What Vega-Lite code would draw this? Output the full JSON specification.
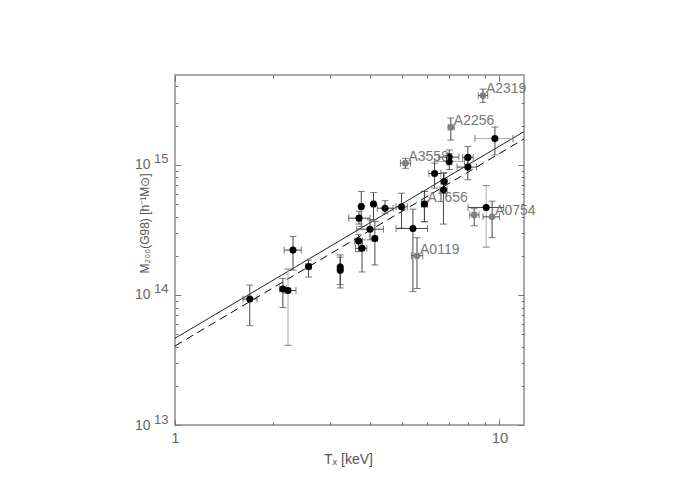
{
  "$schema": "https://vega.github.io/schema/vega-lite/v6.json",
  "autosize": "none",
  "width": 349,
  "height": 350,
  "padding": {"left": 175, "top": 75, "right": 176, "bottom": 75},
  "background": "white",
  "config": {
    "view": {"stroke": "#aaaaaa", "strokeWidth": 2},
    "axis": {
      "domain": false,
      "grid": false,
      "tickColor": "#777777",
      "tickWidth": 1,
      "labelColor": "#666666",
      "labelFont": "Liberation Sans",
      "labelFontSize": 14,
      "titleFont": "Liberation Sans",
      "titleFontSize": 14,
      "titleFontWeight": "normal",
      "titleColor": "#555555"
    }
  },
  "datasets": {
    "pts": [
      {"T": 1.70, "Tlo": 1.62, "Thi": 1.79, "M": 9.3e13, "Mlo": 5.8e13, "Mhi": 1.19e14, "kind": "black", "vbar": "dark", "hbar": "dark", "label": ""},
      {"T": 2.15, "Tlo": 2.10, "Thi": 2.20, "M": 1.11e14, "Mlo": 8.0e13, "Mhi": 1.34e14, "kind": "black", "vbar": "dark", "hbar": "dark", "label": ""},
      {"T": 2.23, "Tlo": 2.17, "Thi": 2.36, "M": 1.08e14, "Mlo": 4.1e13, "Mhi": 1.58e14, "kind": "black", "vbar": "light", "hbar": "dark", "label": ""},
      {"T": 2.31, "Tlo": 2.17, "Thi": 2.45, "M": 2.21e14, "Mlo": 1.55e14, "Mhi": 2.81e14, "kind": "black", "vbar": "dark", "hbar": "dark", "label": ""},
      {"T": 2.58, "Tlo": 2.53, "Thi": 2.63, "M": 1.65e14, "Mlo": 1.37e14, "Mhi": 1.85e14, "kind": "black", "vbar": "dark", "hbar": "dark", "label": ""},
      {"T": 3.23, "Tlo": 3.20, "Thi": 3.26, "M": 1.64e14, "Mlo": 1.13e14, "Mhi": 2.03e14, "kind": "black", "vbar": "dark", "hbar": "dark", "label": ""},
      {"T": 3.23, "Tlo": 3.20, "Thi": 3.26, "M": 1.55e14, "Mlo": 1.20e14, "Mhi": 1.95e14, "kind": "black", "vbar": "dark", "hbar": "dark", "label": ""},
      {"T": 3.68, "Tlo": 3.58, "Thi": 3.78, "M": 2.6e14, "Mlo": 2.15e14, "Mhi": 2.9e14, "kind": "black", "vbar": "dark", "hbar": "dark", "label": ""},
      {"T": 3.77, "Tlo": 3.60, "Thi": 3.90, "M": 2.28e14, "Mlo": 1.5e14, "Mhi": 2.65e14, "kind": "black", "vbar": "dark", "hbar": "dark", "label": ""},
      {"T": 3.69, "Tlo": 3.43, "Thi": 3.99, "M": 3.89e14, "Mlo": 3.5e14, "Mhi": 4.4e14, "kind": "black", "vbar": "dark", "hbar": "dark", "label": ""},
      {"T": 3.75, "Tlo": 3.70, "Thi": 3.80, "M": 4.78e14, "Mlo": 3.35e14, "Mhi": 6.24e14, "kind": "black", "vbar": "dark", "hbar": "dark", "label": ""},
      {"T": 3.99, "Tlo": 3.63, "Thi": 4.39, "M": 3.2e14, "Mlo": 2.65e14, "Mhi": 3.78e14, "kind": "black", "vbar": "dark", "hbar": "dark", "label": ""},
      {"T": 4.13, "Tlo": 4.05, "Thi": 4.20, "M": 2.71e14, "Mlo": 1.70e14, "Mhi": 3.66e14, "kind": "black", "vbar": "dark", "hbar": "dark", "label": ""},
      {"T": 4.09, "Tlo": 4.03, "Thi": 4.15, "M": 5.0e14, "Mlo": 3.78e14, "Mhi": 6.12e14, "kind": "black", "vbar": "dark", "hbar": "dark", "label": ""},
      {"T": 4.44, "Tlo": 4.20, "Thi": 4.70, "M": 4.64e14, "Mlo": 4.2e14, "Mhi": 5.3e14, "kind": "black", "vbar": "dark", "hbar": "dark", "label": ""},
      {"T": 4.99, "Tlo": 4.80, "Thi": 5.20, "M": 4.75e14, "Mlo": 3.26e14, "Mhi": 6.05e14, "kind": "black", "vbar": "dark", "hbar": "dark", "label": ""},
      {"T": 5.41, "Tlo": 4.80, "Thi": 6.00, "M": 3.24e14, "Mlo": 1.06e14, "Mhi": 4.56e14, "kind": "black", "vbar": "dark", "hbar": "dark", "label": ""},
      {"T": 5.87, "Tlo": 5.75, "Thi": 6.00, "M": 5.0e14, "Mlo": 3.65e14, "Mhi": 6.24e14, "kind": "gray", "vbar": "dark", "hbar": "dark", "label": "A1656"},
      {"T": 5.87, "Tlo": 5.75, "Thi": 6.00, "M": 5.0e14, "Mlo": 3.65e14, "Mhi": 6.24e14, "kind": "black", "vbar": "dark", "hbar": "dark", "label": ""},
      {"T": 6.31, "Tlo": 6.06, "Thi": 6.60, "M": 8.57e14, "Mlo": 6.62e14, "Mhi": 1.03e15, "kind": "black", "vbar": "dark", "hbar": "dark", "label": ""},
      {"T": 6.75, "Tlo": 6.60, "Thi": 6.90, "M": 7.45e14, "Mlo": 6.0e14, "Mhi": 8.7e14, "kind": "black", "vbar": "dark", "hbar": "dark", "label": ""},
      {"T": 6.72, "Tlo": 6.55, "Thi": 6.90, "M": 6.42e14, "Mlo": 3.5e14, "Mhi": 8.6e14, "kind": "black", "vbar": "dark", "hbar": "dark", "label": ""},
      {"T": 7.00, "Tlo": 6.50, "Thi": 7.50, "M": 1.146e15, "Mlo": 1.0e15, "Mhi": 1.3e15, "kind": "black", "vbar": "dark", "hbar": "dark", "label": ""},
      {"T": 7.00, "Tlo": 6.30, "Thi": 7.80, "M": 1.06e15, "Mlo": 9.2e14, "Mhi": 1.22e15, "kind": "black", "vbar": "dark", "hbar": "light", "label": ""},
      {"T": 7.99, "Tlo": 7.70, "Thi": 8.30, "M": 1.14e15, "Mlo": 1.0e15, "Mhi": 1.38e15, "kind": "black", "vbar": "dark", "hbar": "dark", "label": ""},
      {"T": 7.99, "Tlo": 7.40, "Thi": 8.50, "M": 9.6e14, "Mlo": 7.67e14, "Mhi": 1.16e15, "kind": "black", "vbar": "dark", "hbar": "dark", "label": ""},
      {"T": 9.68, "Tlo": 8.40, "Thi": 11.0, "M": 1.59e15, "Mlo": 1.19e15, "Mhi": 1.95e15, "kind": "black", "vbar": "dark", "hbar": "light", "label": ""},
      {"T": 9.10, "Tlo": 8.00, "Thi": 10.3, "M": 4.7e14, "Mlo": 2.33e14, "Mhi": 6.92e14, "kind": "black", "vbar": "light", "hbar": "dark", "label": ""},
      {"T": 8.89, "Tlo": 8.60, "Thi": 9.20, "M": 3.41e15, "Mlo": 3.02e15, "Mhi": 3.82e15, "kind": "gray", "vbar": "dark", "hbar": "dark", "label": "A2319"},
      {"T": 7.08, "Tlo": 6.95, "Thi": 7.25, "M": 1.94e15, "Mlo": 1.55e15, "Mhi": 2.29e15, "kind": "gray", "vbar": "dark", "hbar": "dark", "label": "A2256"},
      {"T": 5.13, "Tlo": 4.95, "Thi": 5.32, "M": 1.03e15, "Mlo": 9.4e14, "Mhi": 1.12e15, "kind": "gray", "vbar": "dark", "hbar": "dark", "label": "A3558"},
      {"T": 5.57, "Tlo": 5.35, "Thi": 5.80, "M": 2.0e14, "Mlo": 1.12e14, "Mhi": 2.75e14, "kind": "gray", "vbar": "dark", "hbar": "dark", "label": "A0119"},
      {"T": 8.36, "Tlo": 8.10, "Thi": 8.65, "M": 4.12e14, "Mlo": 3.4e14, "Mhi": 4.6e14, "kind": "gray", "vbar": "dark", "hbar": "dark", "label": ""},
      {"T": 9.49, "Tlo": 8.90, "Thi": 10.0, "M": 3.98e14, "Mlo": 2.76e14, "Mhi": 5.25e14, "kind": "gray", "vbar": "dark", "hbar": "dark", "label": "A0754"}
    ],
    "fit": [
      {"fit": "solid", "T": 1, "M": 4.64e13},
      {"fit": "solid", "T": 11.9, "M": 1.80e15},
      {"fit": "dashed", "T": 1, "M": 4.05e13},
      {"fit": "dashed", "T": 11.9, "M": 1.58e15}
    ]
  },
  "resolve": {"axis": {"x": "independent", "y": "independent"}},
  "layer": [
    {
      "data": {"name": "fit"},
      "mark": {"type": "line", "color": "black", "strokeWidth": 1, "clip": true},
      "encoding": {
        "x": {"field": "T", "type": "quantitative",
          "scale": {"type": "log", "domain": [1, 11.9], "nice": false},
          "axis": {"orient": "bottom", "values": [1, 10], "ticks": false,
            "labelExpr": "datum.value == 1 ? '1' : '10'",
            "labelPadding": 5, "labelFlush": false, "labelFontSize": 15,
            "title": "Tₓ  [keV]", "titleX": 173, "titleY": 34, "titleAlign": "center", "titleBaseline": "middle"}},
        "y": {"field": "M", "type": "quantitative",
          "scale": {"type": "log", "domain": [1e13, 4.9e15], "nice": false},
          "axis": {"orient": "left", "values": [1e13, 1e14, 1e15], "ticks": false,
            "labelExpr": "'10'",
            "labelPadding": 25, "labelFlush": false, "labelFontSize": 14, "labelBaseline": "middle",
            "title": "M₂₀₀(G98)  [h⁻¹M⊙]", "titleFontSize": 12, "titleX": -31, "titleY": 148, "titleAlign": "center", "titleBaseline": "middle", "titleAngle": -90}},
        "strokeDash": {"field": "fit", "type": "nominal",
          "scale": {"domain": ["solid", "dashed"], "range": [[1, 0], [8, 5]]},
          "legend": null}
      }
    },
    {
      "data": {"name": "pts"},
      "transform": [{"filter": "datum.vbar == 'dark'"}],
      "mark": {"type": "rule", "color": "#444444", "strokeWidth": 1},
      "encoding": {
        "x": {"field": "T", "type": "quantitative",
          "axis": {"orient": "bottom", "values": [1, 10], "labels": false, "title": null, "tickSize": 6, "offset": -6}},
        "y": {"field": "Mlo", "type": "quantitative",
          "axis": {"orient": "left", "values": [1e13, 1e14, 1e15], "ticks": false, "title": null,
            "labelExpr": "datum.value == 1e13 ? '13' : datum.value == 1e14 ? '14' : '15'",
            "labelPadding": 7, "labelFlush": false, "labelFontSize": 13, "labelBaseline": "middle", "labelOffset": -6}},
        "y2": {"field": "Mhi"}
      }
    },
    {
      "data": {"name": "pts"},
      "transform": [{"filter": "datum.vbar == 'light'"}],
      "mark": {"type": "rule", "color": "#aaaaaa", "strokeWidth": 1},
      "encoding": {
        "x": {"field": "T", "type": "quantitative",
          "axis": {"orient": "bottom", "values": [2, 3, 4, 5, 6, 7, 8, 9], "labels": false, "title": null, "tickSize": 3, "offset": -3}},
        "y": {"field": "Mlo", "type": "quantitative",
          "axis": {"orient": "left", "values": [1e13, 1e14, 1e15], "labels": false, "title": null, "tickSize": 6, "offset": -6}},
        "y2": {"field": "Mhi"}
      }
    },
    {
      "data": {"name": "pts"},
      "transform": [{"filter": "datum.hbar == 'dark'"}],
      "mark": {"type": "rule", "color": "#444444", "strokeWidth": 1},
      "encoding": {
        "x": {"field": "Tlo", "type": "quantitative",
          "axis": {"orient": "top", "values": [1, 10], "labels": false, "title": null, "tickSize": 6, "offset": -6}},
        "x2": {"field": "Thi"},
        "y": {"field": "M", "type": "quantitative",
          "axis": {"orient": "left", "values": [2e13,3e13,4e13,5e13,6e13,7e13,8e13,9e13,2e14,3e14,4e14,5e14,6e14,7e14,8e14,9e14,2e15,3e15,4e15], "labels": false, "title": null, "tickSize": 3, "offset": -3}}
      }
    },
    {
      "data": {"name": "pts"},
      "transform": [{"filter": "datum.hbar == 'light'"}],
      "mark": {"type": "rule", "color": "#aaaaaa", "strokeWidth": 1},
      "encoding": {
        "x": {"field": "Tlo", "type": "quantitative",
          "axis": {"orient": "top", "values": [2, 3, 4, 5, 6, 7, 8, 9], "labels": false, "title": null, "tickSize": 3, "offset": -3}},
        "x2": {"field": "Thi"},
        "y": {"field": "M", "type": "quantitative",
          "axis": {"orient": "right", "values": [1e13, 1e14, 1e15], "labels": false, "title": null, "tickSize": 6, "offset": -6}}
      }
    },
    {
      "data": {"name": "pts"},
      "mark": {"type": "tick", "orient": "horizontal", "size": 7, "thickness": 1, "color": "#444444"},
      "encoding": {
        "x": {"field": "T", "type": "quantitative", "axis": null},
        "y": {"field": "Mlo", "type": "quantitative",
          "axis": {"orient": "right", "values": [2e13,3e13,4e13,5e13,6e13,7e13,8e13,9e13,2e14,3e14,4e14,5e14,6e14,7e14,8e14,9e14,2e15,3e15,4e15], "labels": false, "title": null, "tickSize": 3, "offset": -3}}
      }
    },
    {
      "data": {"name": "pts"},
      "mark": {"type": "tick", "orient": "horizontal", "size": 7, "thickness": 1, "color": "#444444"},
      "encoding": {
        "x": {"field": "T", "type": "quantitative", "axis": null},
        "y": {"field": "Mhi", "type": "quantitative", "axis": null}
      }
    },
    {
      "data": {"name": "pts"},
      "mark": {"type": "tick", "orient": "vertical", "size": 7, "thickness": 1, "color": "#444444"},
      "encoding": {
        "x": {"field": "Tlo", "type": "quantitative", "axis": null},
        "y": {"field": "M", "type": "quantitative", "axis": null}
      }
    },
    {
      "data": {"name": "pts"},
      "mark": {"type": "tick", "orient": "vertical", "size": 7, "thickness": 1, "color": "#444444"},
      "encoding": {
        "x": {"field": "Thi", "type": "quantitative", "axis": null},
        "y": {"field": "M", "type": "quantitative", "axis": null}
      }
    },
    {
      "data": {"name": "pts"},
      "transform": [{"filter": "datum.kind == 'gray'"}],
      "mark": {"type": "circle", "size": 45, "color": "#808080", "opacity": 1},
      "encoding": {
        "x": {"field": "T", "type": "quantitative", "axis": null},
        "y": {"field": "M", "type": "quantitative", "axis": null}
      }
    },
    {
      "data": {"name": "pts"},
      "transform": [{"filter": "datum.kind == 'black'"}],
      "mark": {"type": "circle", "size": 50, "color": "black", "opacity": 1},
      "encoding": {
        "x": {"field": "T", "type": "quantitative", "axis": null},
        "y": {"field": "M", "type": "quantitative", "axis": null}
      }
    },
    {
      "data": {"name": "pts"},
      "transform": [{"filter": "datum.label != ''"}],
      "mark": {"type": "text", "align": "left", "baseline": "alphabetic", "dx": 3, "dy": -2, "font": "Liberation Sans", "fontSize": 14, "color": "#777777"},
      "encoding": {
        "x": {"field": "T", "type": "quantitative", "axis": null},
        "y": {"field": "M", "type": "quantitative", "axis": null},
        "text": {"field": "label"}
      }
    }
  ]
}
